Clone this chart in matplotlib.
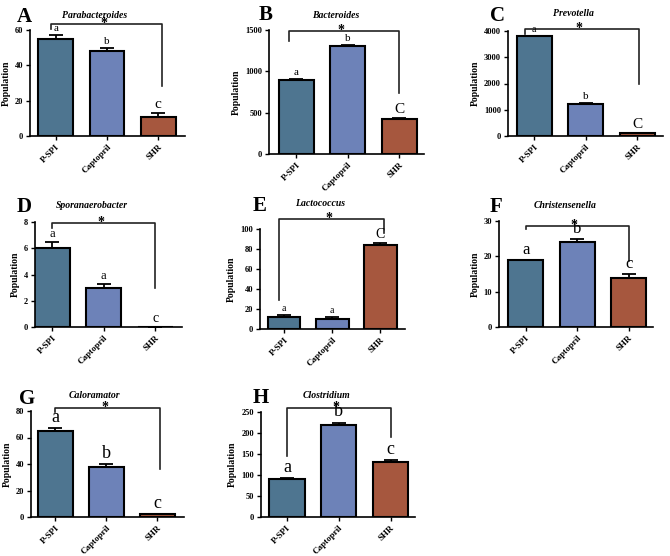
import matplotlib
matplotlib.use("Agg")
import matplotlib.pyplot as plt

plt.rcParams["font.family"] = ["Liberation Serif", "DejaVu Serif"]

groups = ["P-SPI", "Captopril", "SHR"]
colors = ["#4e7590", "#6d82b8", "#a6573e"]

panels = ["A", "B", "C", "D", "E", "F", "G", "H"]
genera = ["Parabacteroides", "Bacteroides", "Prevotella", "Sporanaerobacter",
          "Lactococcus", "Christensenella", "Caloramator", "Clostridium"]

means_A = [55, 48, 11]
means_B = [895, 1305, 425]
means_C = [3800, 1230, 120]
means_D = [6, 3, 0]
means_E = [12, 10, 84]
means_F = [19, 24, 14]
means_G = [65, 38, 2]
means_H = [90, 220, 132]

errs_A = [2, 2, 2]
errs_B = [12, 10, 10]
errs_C = [15, 15, 10]
errs_D = [0.5, 0.3, 0]
errs_E = [2, 2, 2]
errs_F = [0, 1, 1]
errs_G = [2, 2, 0]
errs_H = [3, 5, 4]

letters_A = ["a", "b", "c"]
letters_B = ["a", "b", "C"]
letters_C = ["a", "b", "C"]
letters_D = ["a", "a", "c"]
letters_E = ["a", "a", "C"]
letters_F = ["a", "b", "c"]
letters_G = ["a", "b", "c"]
letters_H = ["a", "b", "c"]

ymax = [60, 1500, 4000, 8, 100, 30, 80, 250]
ystep = [20, 500, 1000, 2, 20, 10, 20, 50]

means = [means_A, means_B, means_C, means_D, means_E, means_F, means_G, means_H]
errs = [errs_A, errs_B, errs_C, errs_D, errs_E, errs_F, errs_G, errs_H]
letters = [letters_A, letters_B, letters_C, letters_D,
           letters_E, letters_F, letters_G, letters_H]

# layout (pixels): axes box x0, x1, y_top, y_bottom
boxes = [(30, 185, 30, 136), (269, 424, 30, 154), (508, 663, 31, 136),
         (35, 182, 222, 327), (260, 405, 229, 329), (499, 653, 221, 327),
         (31, 184, 411, 517), (261, 415, 412, 517)]
xlims = [(-0.5, 2.52), (-0.53, 2.48), (-0.51, 2.5), (-0.33, 2.52),
         (-0.5, 2.51), (-0.52, 2.47), (-0.48, 2.52), (-0.5, 2.47)]
# bracket: x left, x right, top, left drop, right drop (data units)
brackets = [(-0.1, 2.08, 63.4, 60.6, 28.3), (-0.15, 2.0, 1488, 1367, 738),
            (-0.18, 2.03, 4076, 3886, 1981), (0, 2.0, 7.92, 7.54, 2.97),
            (-0.1, 2.07, 110, 29, 96), (0, 2.0, 28.6, 27.7, 18.7),
            (0, 2.05, 82.3, 79.3, 36.2), (0, 2.0, 259.5, 145, 190)]
title_off = [(-13, 15), (-11, 15), (-12, 17), (-17, 17),
             (-12, 25), (-11, 16), (-13, 16), (-11, 17)]
label_pos = [(24, 17), (266, 15), (497, 16), (24, 207),
             (260, 206), (496, 207), (27, 399), (261, 398)]
letter_size = [[8, 8, 11], [8, 8, 11], [7, 8, 11], [9, 9, 10],
               [7, 7, 10], [12, 12, 12], [13, 13, 13], [13, 13, 13]]

W, H = 670, 556
fig = plt.figure(figsize=(6.7, 5.56), dpi=100)

for i in range(8):
    x0, x1, yt, yb = boxes[i]
    ax = fig.add_axes([x0 / W, 1 - yb / H, (x1 - x0) / W, (yb - yt) / H])
    xs = range(3)
    ax.bar(xs, means[i], width=0.68, color=colors, edgecolor="black", linewidth=1.5)
    ax.errorbar(xs, means[i], yerr=[[0, 0, 0], errs[i]], fmt="none",
                ecolor="black", elinewidth=1.3, capsize=5, capthick=1.3)

    ax.set_xlim(*xlims[i])
    ax.set_ylim(0, ymax[i])
    ax.set_yticks(range(0, ymax[i] + 1, ystep[i]))
    ax.set_xticks(list(xs))
    ax.set_xticklabels(groups, rotation=45, ha="right", rotation_mode="anchor",
                       fontsize=6.5, fontweight="bold")
    for lab in ax.get_yticklabels():
        lab.set_fontsize(6)
        lab.set_fontweight("bold")
    ax.tick_params(direction="out", length=3, width=1, pad=2)
    ax.set_ylabel("Population", fontsize=7, fontweight="bold", labelpad=3)
    for s in ["top", "right"]:
        ax.spines[s].set_visible(False)
    for s in ["left", "bottom"]:
        ax.spines[s].set_linewidth(1.2)

    # significance letters
    for j in range(3):
        ax.annotate(letters[i][j], (j, means[i][j] + errs[i][j]),
                    xytext=(0, 2), textcoords="offset pixels",
                    ha="center", va="bottom", fontsize=letter_size[i][j],
                    annotation_clip=False)

    # bracket with star
    bl, br, bt, dl, dr = brackets[i]
    ax.plot([bl, bl, br, br], [dl, bt, bt, dr], color="#222222",
            linewidth=1.2, clip_on=False)
    ax.annotate("*", ((bl + br) / 2, bt), xytext=(-3, -3),
                textcoords="offset pixels", ha="center", va="baseline",
                fontsize=10, fontweight="bold", annotation_clip=False)

    ax.annotate(genera[i], (0.5, 1), xycoords="axes fraction",
                xytext=title_off[i], textcoords="offset pixels",
                ha="center", va="center", fontsize=7,
                fontstyle="italic", fontweight="bold")

    lx, ly = label_pos[i]
    fig.text(lx / W, 1 - ly / H, panels[i], ha="center", va="center",
             fontsize=15, fontweight="bold")

fig.savefig("out.png", dpi=100)
